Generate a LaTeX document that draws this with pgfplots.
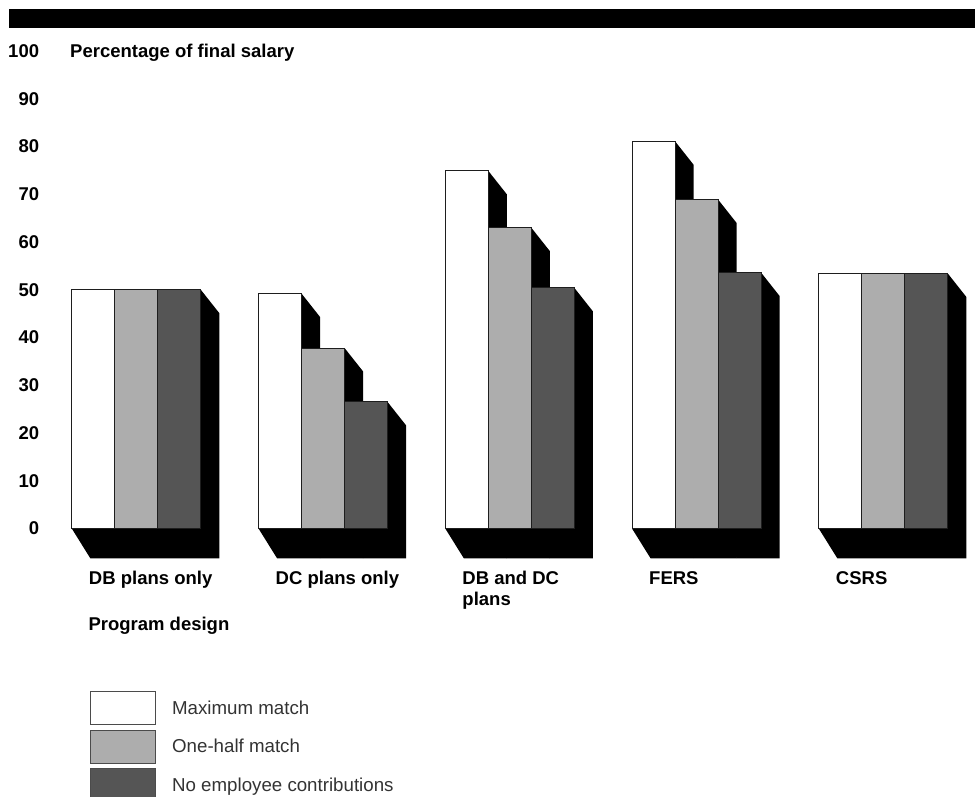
\documentclass[border=0pt]{standalone}
\usepackage{pgfplots}
\pgfplotsset{compat=1.18}
\usepackage{fontspec}
\setmainfont{Liberation Sans}
\definecolor{lgray}{RGB}{173,173,173}
\definecolor{dgray}{RGB}{85,85,85}
\definecolor{edge}{RGB}{30,30,30}
\begin{document}
\begin{tikzpicture}[x=1pt,y=1pt]
\useasboundingbox (0,0) rectangle (975,797);
\fill[black] (9,769) rectangle (975,788);
\begin{axis}[
  at={(42.9pt,268.5pt)}, anchor=south west,
  scale only axis, width=924.4pt, height=477.5pt,
  xmin=-0.5, xmax=4.45, ymin=0, ymax=100,
  clip=false,
  axis line style={draw=none},
  major tick length=0pt,
  tick style={draw=none},
  ytick={0,10,...,100},
  xtick={0,1,2,3,4},
  xticklabels={DB plans only, DC plans only, {DB and DC\\plans}, FERS, CSRS},
  /pgf/number format/assume math mode=true,
  ticklabel style={font=\bfseries\fontsize{18.5}{21}\selectfont, inner sep=0pt},
  yticklabel style={anchor=east, xshift=-3.6pt},
  xticklabel style={anchor=north west, align=left, xshift=-47.5pt, yshift=-42.5pt},
  legend style={at={(axis cs:-0.248,-34.03)}, anchor=north west, draw=none, fill=none,
    inner sep=0pt, row sep=4.5pt, column sep=16pt, text=black!80,
    font=\fontsize{18.7}{21}\selectfont, nodes={inner sep=0pt}},
  legend cell align=left,
]
% shadows
\addplot[fill=black, draw=none, forget plot] coordinates {(-0.3455,0) (-0.2455,-6.28) (0.4455,-6.28) (0.4455,45.06) (0.3455,50)};
\addplot[fill=black, draw=none, forget plot] coordinates {(0.6545,0) (0.7545,-6.28) (0.9848,-6.28) (0.9848,44.26) (0.8848,49.2)};
\addplot[fill=black, draw=none, forget plot] coordinates {(0.8848,0) (0.9848,-6.28) (1.2152,-6.28) (1.2152,32.86) (1.1152,37.8)};
\addplot[fill=black, draw=none, forget plot] coordinates {(1.1152,0) (1.2152,-6.28) (1.4455,-6.28) (1.4455,21.56) (1.3455,26.5)};
\addplot[fill=black, draw=none, forget plot] coordinates {(1.6545,0) (1.7545,-6.28) (1.9848,-6.28) (1.9848,69.96) (1.8848,74.9)};
\addplot[fill=black, draw=none, forget plot] coordinates {(1.8848,0) (1.9848,-6.28) (2.2152,-6.28) (2.2152,58.06) (2.1152,63.0)};
\addplot[fill=black, draw=none, forget plot] coordinates {(2.1152,0) (2.2152,-6.28) (2.4455,-6.28) (2.4455,45.46) (2.3455,50.4)};
\addplot[fill=black, draw=none, forget plot] coordinates {(2.6545,0) (2.7545,-6.28) (2.9848,-6.28) (2.9848,76.16) (2.8848,81.1)};
\addplot[fill=black, draw=none, forget plot] coordinates {(2.8848,0) (2.9848,-6.28) (3.2152,-6.28) (3.2152,63.96) (3.1152,68.9)};
\addplot[fill=black, draw=none, forget plot] coordinates {(3.1152,0) (3.2152,-6.28) (3.4455,-6.28) (3.4455,48.66) (3.3455,53.6)};
\addplot[fill=black, draw=none, forget plot] coordinates {(3.6545,0) (3.7545,-6.28) (4.4455,-6.28) (4.4455,48.46) (4.3455,53.4)};
% bars
\addplot[ybar, bar width=0.2303, bar shift=-0.2303, fill=white, draw=edge, line width=1pt,
  legend image code/.code={\draw[fill=white, draw=edge!80, line width=1pt] (0pt,-16.5pt) rectangle (65pt,16.5pt);}]
  coordinates {(0,50) (1,49.2) (2,74.9) (3,81.1) (4,53.4)};
\addlegendentry{Maximum match}
\addplot[ybar, bar width=0.2303, bar shift=0, fill=lgray, draw=edge, line width=1pt,
  legend image code/.code={\draw[fill=lgray, draw=edge!80, line width=1pt] (0pt,-16.5pt) rectangle (65pt,16.5pt);}]
  coordinates {(0,50) (1,37.8) (2,63.0) (3,68.9) (4,53.4)};
\addlegendentry{One-half match}
\addplot[ybar, bar width=0.2303, bar shift=0.2303, fill=dgray, draw=edge, line width=1pt,
  legend image code/.code={\draw[fill=dgray, draw=edge!80, line width=1pt] (0pt,-16.5pt) rectangle (65pt,16.5pt);}]
  coordinates {(0,50) (1,26.5) (2,50.4) (3,53.6) (4,53.4)};
\addlegendentry{No employee contributions}
\end{axis}
\node[anchor=base west, inner sep=0pt, font=\bfseries\fontsize{18.5}{21}\selectfont] at (70,739.7) {Percentage of final salary};
\node[anchor=base west, inner sep=0pt, font=\bfseries\fontsize{18.5}{21}\selectfont] at (88.3,166) {Program design};
\end{tikzpicture}
\end{document}
